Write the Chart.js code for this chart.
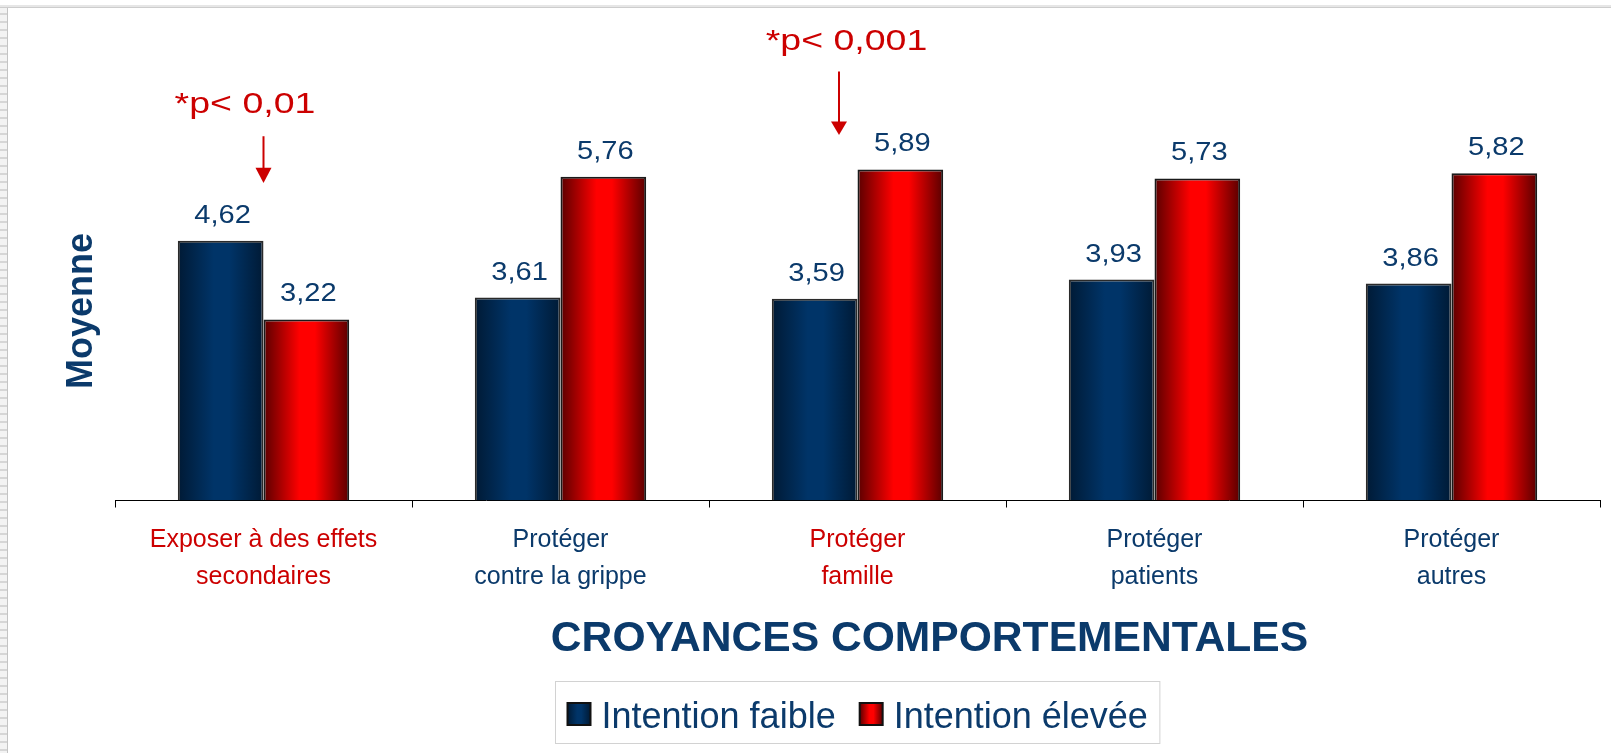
<!DOCTYPE html>
<html><head><meta charset="utf-8">
<script src="https://cdn.jsdelivr.net/npm/chart.js@4/dist/chart.umd.min.js"></script>
<style>
html,body{margin:0;padding:0;background:#fff;width:1611px;height:753px;overflow:hidden;}
#topline{position:absolute;left:0;top:5px;width:1611px;height:2px;background:#e6e6e6;border-bottom:1px solid #cdcdcd;}
#strip{position:absolute;left:0;top:8px;width:7px;height:745px;background:repeating-linear-gradient(to bottom,#f3f3f3 0,#f3f3f3 5px,#d6d6d6 5px,#d6d6d6 7px,#f3f3f3 7px,#f3f3f3 8px);border-right:1px solid #c4c4c4;}
#c{position:absolute;left:0;top:0;}
</style></head>
<body>
<div id="topline"></div><div id="strip"></div>
<canvas id="c" width="1611" height="753"></canvas>
<script>
const categories = [['Exposer à des effets','secondaires'],['Protéger','contre la grippe'],['Protéger','famille'],['Protéger','patients'],['Protéger','autres']];
const categoryColors = ['#cc0000','#0b3a6b','#cc0000','#0b3a6b','#0b3a6b'];
const seriesNames = ['Intention faible','Intention élevée'];
const intentionFaible = [4.62,3.61,3.59,3.93,3.86];
const intentionElevee = [3.22,5.76,5.89,5.73,5.82];
const annotationCategories = [0,2];
const annotationTexts = ['*p< 0,01','*p< 0,001'];
const xAxisTitle = 'CROYANCES COMPORTEMENTALES';
const yAxisTitle = 'Moyenne';

const FONT = "'Liberation Sans', Arial, sans-serif";
const NAVY = '#0b3a6b';
const RED = '#cc0000';
const CAT_PCT = 0.577;
const palettes = [
  {dark:'#001a35', bright:'#003468', border:'#2a2a2a'},
  {dark:'#5a0000', bright:'#ff0000', border:'#1a1a1a'}
];
function grad(ctx, left, right, p){
  const g = ctx.createLinearGradient(left,0,right,0);
  g.addColorStop(0,p.dark); g.addColorStop(0.42,p.bright); g.addColorStop(0.6,p.bright); g.addColorStop(1,p.dark);
  return g;
}
function barBg(di){
  return (c)=>{
    const chart = c.chart; const x = chart.scales && chart.scales.x;
    if(!x || !chart.chartArea || c.type!=='data') return palettes[di].bright;
    const cx = x.getPixelForValue(c.dataIndex);
    const bw = (x.width/categories.length)*CAT_PCT/2;
    const left = cx - bw + di*bw;
    return grad(chart.ctx, left, left+bw, palettes[di]);
  };
}
function fmt(v){return v.toFixed(2).replace('.',',');}
function stretchedText(ctx, text, x, y, sx){
  ctx.save(); ctx.translate(x, y); ctx.scale(sx, 1); ctx.fillText(text, 0, 0); ctx.restore();
}

const overlay = {
  id:'overlay',
  afterDatasetsDraw(chart){
    const ctx = chart.ctx, xs = chart.scales.x, ys = chart.scales.y;
    ctx.save();
    // value labels
    ctx.font = '25.5px '+FONT; ctx.fillStyle = NAVY; ctx.textAlign='center'; ctx.textBaseline='alphabetic';
    chart.data.datasets.forEach((ds,di)=>{
      chart.getDatasetMeta(di).data.forEach((bar,i)=>{
        stretchedText(ctx, fmt(ds.data[i]), bar.x+2, bar.y-18, 1.14);
      });
    });
    // annotations
    const annStyle = [
      {textDx:-18.5, textY:6.9, lineTop:6.48, headTop:5.92, tip:5.65, arrowDx:0},
      {textDx:-11, textY:8.02, lineTop:7.63, headTop:6.74, tip:6.5, arrowDx:-18.5}
    ];
    ctx.font = '30px '+FONT; ctx.fillStyle = RED; ctx.strokeStyle = RED;
    annotationCategories.forEach((ci,k)=>{
      const s = annStyle[k];
      const cx = xs.getPixelForValue(ci);
      stretchedText(ctx, annotationTexts[k], cx+s.textDx, ys.getPixelForValue(s.textY), 1.25);
      const ax = cx + s.arrowDx;
      ctx.lineWidth = 2;
      ctx.beginPath(); ctx.moveTo(ax, ys.getPixelForValue(s.lineTop)); ctx.lineTo(ax, ys.getPixelForValue(s.headTop)+1); ctx.stroke();
      ctx.beginPath();
      const ht = ys.getPixelForValue(s.headTop);
      ctx.moveTo(ax-8, ht); ctx.lineTo(ax+8, ht); ctx.lineTo(ax, ys.getPixelForValue(s.tip)); ctx.closePath(); ctx.fill();
    });
    // y title
    const ca = chart.chartArea;
    ctx.save();
    ctx.translate(82, 311);
    ctx.rotate(-Math.PI/2);
    ctx.font = 'bold 36px '+FONT; ctx.fillStyle = NAVY; ctx.textAlign='center'; ctx.textBaseline='middle';
    ctx.fillText(yAxisTitle,0,0);
    ctx.restore();
    // x title
    ctx.font = 'bold 42.6px '+FONT; ctx.fillStyle = NAVY; ctx.textAlign='center'; ctx.textBaseline='alphabetic';
    ctx.fillText(xAxisTitle, (ca.left+ca.right)/2+72, 651);
    // legend
    ctx.font = '36px '+FONT; ctx.textAlign='left';
    const sq = 23, gapIn = 11, gapOut = 24, pad = 12;
    const widths = seriesNames.map(n=>ctx.measureText(n).width);
    const total = pad*2 + seriesNames.length*(sq+gapIn) + widths.reduce((a,b)=>a+b,0) + gapOut*(seriesNames.length-1);
    const bx = Math.round((ca.left+ca.right)/2 - total/2)+0.5, by = 681.5, bh = 62;
    ctx.strokeStyle = '#d2d2d2'; ctx.lineWidth = 1;
    ctx.strokeRect(bx, by, total, bh);
    let x = bx + pad;
    seriesNames.forEach((n,i)=>{
      ctx.fillStyle = grad(ctx, x, x+sq, palettes[i]);
      ctx.fillRect(x, 703, sq, sq-1);
      ctx.strokeStyle = '#111'; ctx.lineWidth = 2; ctx.strokeRect(x, 703, sq, sq-1);
      x += sq + gapIn;
      ctx.fillStyle = NAVY; ctx.fillText(n, x, 728);
      x += widths[i] + gapOut;
    });
    ctx.restore();
  }
};

new Chart(document.getElementById('c'), {
  type:'bar',
  data:{
    labels: categories,
    datasets:[
      {label:seriesNames[0], data:intentionFaible, backgroundColor:barBg(0), borderColor:palettes[0].border, borderWidth:2, categoryPercentage:CAT_PCT, barPercentage:1},
      {label:seriesNames[1], data:intentionElevee, backgroundColor:barBg(1), borderColor:palettes[1].border, borderWidth:2, categoryPercentage:CAT_PCT, barPercentage:1}
    ]
  },
  options:{
    responsive:false, animation:false,
    layout:{padding:{left:115, right:11, top:107, bottom:143.5}},
    plugins:{legend:{display:false}, tooltip:{enabled:false}, title:{display:false}},
    scales:{
      x:{
        grid:{offset:true, drawOnChartArea:false, drawTicks:true, tickLength:7, color:'#000', lineWidth:1},
        border:{display:true, color:'#000', width:1},
        ticks:{autoSkip:false, maxRotation:0, padding:14, font:{family:FONT, size:25, lineHeight:1.48}, color:(c)=>categoryColors[c.index]}
      },
      y:{display:false, min:0, max:7}
    }
  },
  plugins:[overlay]
});
</script>
</body></html>
